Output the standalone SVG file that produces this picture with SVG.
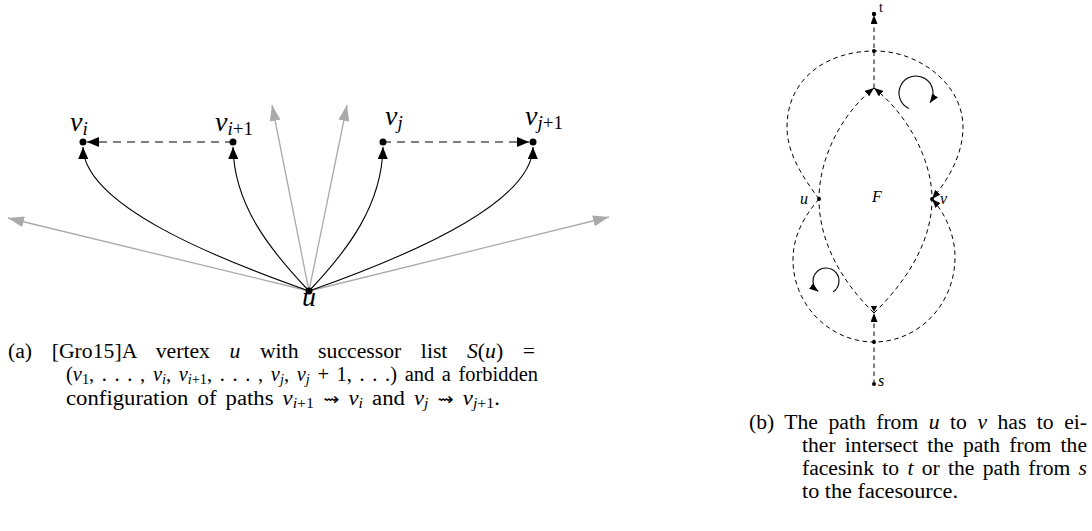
<svg xmlns="http://www.w3.org/2000/svg" width="1092" height="531" viewBox="0 0 1092 531">
<style>
text{font-family:"Liberation Serif","Times New Roman",serif;fill:#000}
.lbl{font-size:28px;font-style:italic}
.sub{font-size:19px}
.cap{font-size:20px}
.cs{font-size:14px}
.up{font-style:normal}
.it{font-style:italic}
.arr{font-family:"DejaVu Sans",sans-serif;font-size:17px;font-style:normal}
.solid{fill:none;stroke:#000;stroke-width:1.1}
.gray{fill:none;stroke:#aaa;stroke-width:1.3}
.dashL{fill:none;stroke:#000;stroke-width:1.1;stroke-dasharray:8 6}
.dashR{fill:none;stroke:#000;stroke-width:1;stroke-dasharray:4.5 3.5}
.rl{font-size:16px;font-style:italic}
.dot{fill:#000}
</style>
<defs>
<marker id="ab" markerUnits="userSpaceOnUse" viewBox="0 0 12 10" markerWidth="12" markerHeight="10" refX="12" refY="5" orient="auto"><path d="M0,0L12,5L0,10z" fill="#000"/></marker>
<marker id="ag" markerUnits="userSpaceOnUse" viewBox="0 0 16 11" markerWidth="16" markerHeight="11" refX="16" refY="5.5" orient="auto"><path d="M0,0L16,5.5L0,11z" fill="#aaa"/></marker>
<marker id="as" markerUnits="userSpaceOnUse" viewBox="0 0 9 7" markerWidth="9" markerHeight="7" refX="9" refY="3.5" orient="auto"><path d="M0,0L9,3.5L0,7z" fill="#000"/></marker>
</defs>

<g id="connectors">
<path class="gray" d="M309,291L8,218" marker-end="url(#ag)"/>
<path class="gray" d="M309,291L272,105" marker-end="url(#ag)"/>
<path class="gray" d="M309,291L347,105" marker-end="url(#ag)"/>
<path class="gray" d="M309,291L609,217" marker-end="url(#ag)"/>
<path class="solid" d="M309,291C215,258 84,205 83,147" marker-end="url(#ab)"/>
<path class="solid" d="M309,291C270,250 234,205 233,147" marker-end="url(#ab)"/>
<path class="solid" d="M309,291C348,250 382,205 383,147" marker-end="url(#ab)"/>
<path class="solid" d="M309,291C403,258 532,205 533,147" marker-end="url(#ab)"/>
<path class="dashL" d="M233,142L87,142" marker-end="url(#ab)"/>
<path class="dashL" d="M383,142L529,142" marker-end="url(#ab)"/>

<path class="dashR" d="M874,313C840,280 819,240 819,199C819,160 840,115 874,88" marker-end="url(#as)"/>
<path class="dashR" d="M874,313C908,280 932,240 932,199C932,160 908,115 874,88" marker-end="url(#as)"/>
<path class="dashR" d="M819,199C805,180 787,155 787,127C787,80 825,51 875,51C920,51 963,85 963,127C963,155 948,180 932,199" marker-end="url(#as)"/>
<path class="dashR" d="M819,199C805,215 793,235 793,260C793,305 830,342 874,342C918,342 955,305 955,257C955,235 945,213 932,199" marker-end="url(#as)"/>
<path class="dashR" d="M874,88L874,15" marker-end="url(#as)"/>
<path class="dashR" d="M874,384L874,313" marker-end="url(#as)"/>
<path class="solid" d="M908.8,108.4A17,17 0 1 1 929.9,102.8" marker-end="url(#as)"/>
<path class="solid" d="M833.1,291.9A13,13 0 1 0 818.2,291.4" marker-end="url(#as)"/>
</g>

<g id="node-u"><circle class="dot" cx="309" cy="291" r="3.5"/><text class="lbl" x="309" y="306" text-anchor="middle">u</text></g>
<g id="node-vi"><circle class="dot" cx="83" cy="142" r="3.5"/><text class="lbl" x="70" y="131">v<tspan class="sub" dy="4">i</tspan></text></g>
<g id="node-vi1"><circle class="dot" cx="233" cy="142" r="3.5"/><text class="lbl" x="215" y="131">v<tspan class="sub" dy="4">i<tspan class="up">+1</tspan></tspan></text></g>
<g id="node-vj"><circle class="dot" cx="383" cy="142" r="3.5"/><text class="lbl" x="385" y="125">v<tspan class="sub" dy="4">j</tspan></text></g>
<g id="node-vj1"><circle class="dot" cx="533" cy="142" r="3.5"/><text class="lbl" x="525" y="125">v<tspan class="sub" dy="4">j<tspan class="up">+1</tspan></tspan></text></g>

<g id="node-t"><circle class="dot" cx="874" cy="14" r="2.2"/><text x="879" y="12" font-size="14">t</text></g>
<g id="node-x1"><circle class="dot" cx="874" cy="51" r="2"/></g>
<g id="node-ru"><circle class="dot" cx="819" cy="199" r="2"/><text class="rl" x="800" y="204">u</text></g>
<g id="node-rv"><circle class="dot" cx="932" cy="199" r="2"/><text class="rl" x="940" y="204">v</text></g>
<g id="node-F"><text class="rl" x="872" y="202">F</text></g>
<g id="node-facesource"><path d="M870.8,306L877.2,306L874,312z" fill="#000"/></g>
<g id="node-x2"><circle class="dot" cx="874" cy="342" r="2"/></g>
<g id="node-s"><circle class="dot" cx="874" cy="384" r="2"/><text class="rl" x="878" y="386" font-size="15">s</text></g>

<g id="caption-a">
<text class="cap" x="8" y="358" textLength="527" lengthAdjust="spacingAndGlyphs" style="word-spacing:13px">(a) [Gro15]A vertex <tspan class="it">u</tspan> with successor list <tspan class="it">S</tspan>(<tspan class="it">u</tspan>) =</text>
<text class="cap" x="66" y="381" textLength="472" lengthAdjust="spacingAndGlyphs" style="word-spacing:2.5px">(<tspan class="it">v</tspan><tspan class="cs" dy="3">1</tspan><tspan dy="-3">, . . . , </tspan><tspan class="it">v</tspan><tspan class="cs it" dy="3">i</tspan><tspan dy="-3">, </tspan><tspan class="it">v</tspan><tspan class="cs" dy="3"><tspan class="it">i</tspan>+1</tspan><tspan dy="-3">, . . . , </tspan><tspan class="it">v</tspan><tspan class="cs it" dy="3">j</tspan><tspan dy="-3">, </tspan><tspan class="it">v</tspan><tspan class="cs it" dy="3">j</tspan><tspan dy="-3"> + 1, . . .) and a forbidden</tspan></text>
<text class="cap" x="66" y="404.5" textLength="434" lengthAdjust="spacingAndGlyphs" style="word-spacing:3px">configuration of paths <tspan class="it">v</tspan><tspan class="cs" dy="3"><tspan class="it">i</tspan>+1</tspan><tspan dy="-3"> </tspan><tspan class="arr">⇝</tspan> <tspan class="it">v</tspan><tspan class="cs it" dy="3">i</tspan><tspan dy="-3"> and </tspan><tspan class="it">v</tspan><tspan class="cs it" dy="3">j</tspan><tspan dy="-3"> </tspan><tspan class="arr">⇝</tspan> <tspan class="it">v</tspan><tspan class="cs" dy="3"><tspan class="it">j</tspan>+1</tspan><tspan dy="-3">.</tspan></text>
</g>

<g id="caption-b">
<text class="cap" x="749" y="429" textLength="338" lengthAdjust="spacingAndGlyphs" style="word-spacing:4.7px">(b) The path from <tspan class="it">u</tspan> to <tspan class="it">v</tspan> has to ei-</text>
<text class="cap" x="802" y="452" textLength="285" lengthAdjust="spacingAndGlyphs" style="word-spacing:3.6px">ther intersect the path from the</text>
<text class="cap" x="802" y="475" textLength="285" lengthAdjust="spacingAndGlyphs" style="word-spacing:2.7px">facesink to <tspan class="it">t</tspan> or the path from <tspan class="it">s</tspan></text>
<text class="cap" x="802" y="498" textLength="156" lengthAdjust="spacingAndGlyphs">to the facesource.</text>
</g>
</svg>
